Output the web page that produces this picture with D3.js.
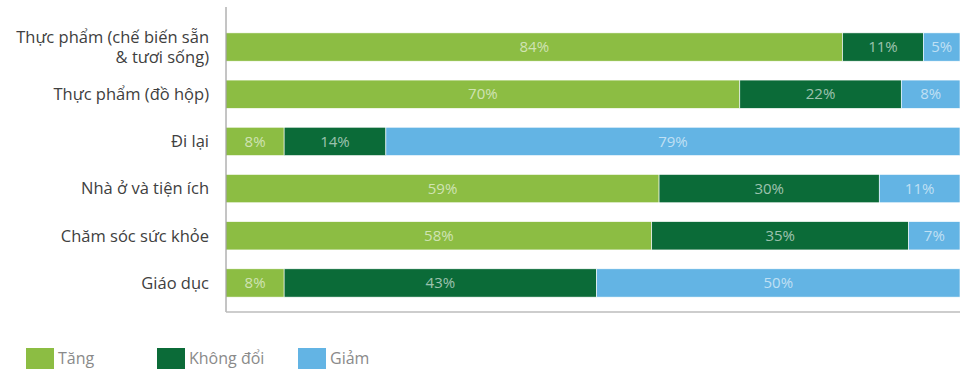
<!DOCTYPE html>
<html>
<head>
<meta charset="utf-8">
<script src="https://cdn.jsdelivr.net/npm/d3@7"></script>
<style>
  body { margin: 0; background: #fff; }
  svg { font-family: "Open Sans", sans-serif; }
</style>
</head>
<body>
<svg id="chart" width="970" height="371"></svg>
<script>
// data
const categories = [
  ["Thực phẩm (chế biến sẵn", "& tươi sống)"],
  ["Thực phẩm (đồ hộp)"],
  ["Đi lại"],
  ["Nhà ở và tiện ích"],
  ["Chăm sóc sức khỏe"],
  ["Giáo dục"]
];
const seriesNames = ["Tăng", "Không đổi", "Giảm"];
const tang = [84, 70, 8, 59, 58, 8];
const khongDoi = [11, 22, 14, 30, 35, 43];
const giam = [5, 8, 79, 11, 7, 50];
const colors = ["#8cbd43", "#0b6b38", "#63b4e4"];

const svg = d3.select("#chart");
const keys = ["tang", "khongDoi", "giam"];
const rows = categories.map((c, i) => ({
  name: c.join(" "),
  lines: c,
  tang: tang[i],
  khongDoi: khongDoi[i],
  giam: giam[i]
}));

const x = d3.scaleLinear().domain([0, 1]).range([226, 960]);
const y = d3.scaleBand()
  .domain(rows.map(d => d.name))
  .range([14, 316])
  .paddingInner(0.4)
  .paddingOuter(0.4);
const color = d3.scaleOrdinal().domain(keys).range(colors);

// each row normalised to 100%
const stacked = d3.stack().keys(keys).offset(d3.stackOffsetExpand)(rows);

const layers = svg.selectAll("g.layer")
  .data(stacked)
  .enter()
  .append("g")
  .attr("class", "layer")
  .attr("fill", d => color(d.key));

layers.selectAll("rect")
  .data(d => d.map(p => ({ p, key: d.key })))
  .enter()
  .append("rect")
  .attr("x", d => x(d.p[0]))
  .attr("y", d => y(d.p.data.name))
  .attr("width", d => x(d.p[1]) - x(d.p[0]))
  .attr("height", y.bandwidth())
  .attr("stroke", "#fff")
  .attr("stroke-width", 0.6);

// value labels
layers.selectAll("text")
  .data(d => d.map(p => ({ p, key: d.key })))
  .enter()
  .append("text")
  .attr("x", d => (x(d.p[0]) + x(d.p[1])) / 2)
  .attr("y", d => y(d.p.data.name) + y.bandwidth() / 2)
  .attr("dy", "0.35em")
  .attr("text-anchor", "middle")
  .style("font-size", "15px")
  .style("fill", "#fff")
  .style("fill-opacity", 0.6)
  .text(d => d.p.data[d.key] + "%");

// axis lines
svg.append("line")
  .attr("x1", 226).attr("x2", 226)
  .attr("y1", 7).attr("y2", 312)
  .attr("stroke", "#8a8a8a")
  .attr("stroke-width", 1);
svg.append("line")
  .attr("x1", 226).attr("x2", 960)
  .attr("y1", 312).attr("y2", 312)
  .attr("stroke", "#bdbdbd")
  .attr("stroke-width", 1.5);

// category labels
const cat = svg.selectAll("text.cat")
  .data(rows)
  .enter()
  .append("text")
  .attr("class", "cat")
  .attr("x", 209)
  .attr("y", d => y(d.name) + y.bandwidth() / 2)
  .attr("text-anchor", "end")
  .style("font-size", "16.5px")
  .style("fill", "#404040");

cat.selectAll("tspan")
  .data(d => d.lines.map((t, i) => ({ t, i, n: d.lines.length })))
  .enter()
  .append("tspan")
  .attr("x", 209)
  .attr("dy", d => d.i === 0 ? (0.35 - (d.n - 1) * 0.62) + "em" : "1.24em")
  .text(d => d.t);

// legend
const legendX = [26, 157, 298];
const legend = svg.selectAll("g.legend")
  .data(seriesNames)
  .enter()
  .append("g")
  .attr("class", "legend")
  .attr("transform", (d, i) => `translate(${legendX[i]},348)`);

legend.append("rect")
  .attr("width", 28)
  .attr("height", 21)
  .attr("fill", (d, i) => colors[i]);

legend.append("text")
  .attr("x", 32)
  .attr("y", 10.5)
  .attr("dy", "0.35em")
  .style("font-size", "16px")
  .style("fill", "#8a8a8a")
  .text(d => d);
</script>
</body>
</html>
